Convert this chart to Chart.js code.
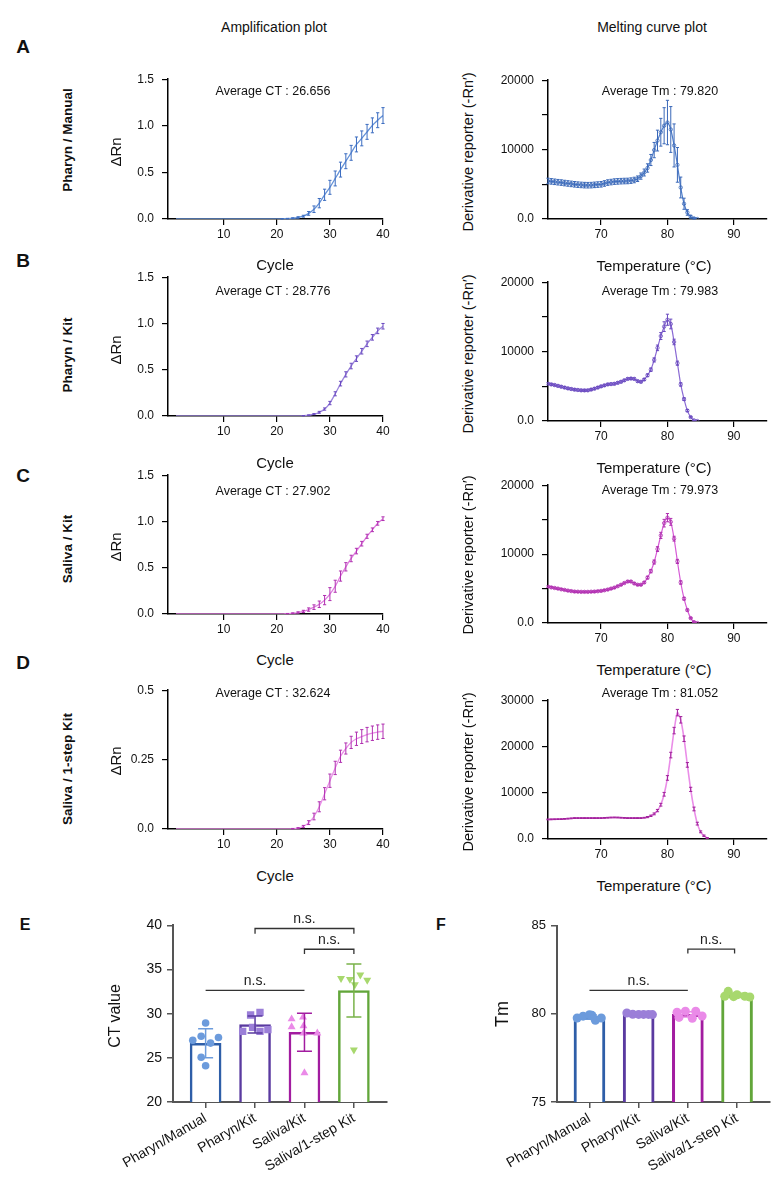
<!DOCTYPE html>
<html>
<head>
<meta charset="utf-8">
<title>qPCR amplification and melting curves</title>
<style>
	html, body {
		margin: 0;
		padding: 0;
		background: #fff;
	}
	#page {
		position: relative;
		width: 782px;
		height: 1177px;
		overflow: hidden;
		font-family: "Liberation Sans", Arial, Helvetica, sans-serif;
		color: #111;
	}
	.txt {
		position: absolute;
		white-space: nowrap;
		line-height: 1;
		transform: translate(-50%, -50%);
	}
	canvas { position: absolute; }
</style>
</head>
<body>
<div id="page"></div>

<script src="https://cdn.jsdelivr.net/npm/chart.js@4.4.0/dist/chart.umd.min.js"></script>
<script>
// ---- amplification data (cycles 1..40) ----
const cycles = [1,2,3,4,5,6,7,8,9,10,11,12,13,14,15,16,17,18,19,20,21,22,23,24,25,26,27,28,29,30,31,32,33,34,35,36,37,38,39,40];
const ampA = [0,0,0,0,0,0,0,0,0,0, 0,0,0,0,0,0,0,0,0,0, 0.002,0.004,0.008,0.016,0.03,0.06,0.105,0.17,0.26,0.34, 0.435,0.53,0.62,0.71,0.80,0.865,0.935,1.005,1.06,1.11];
const ampAsd = [0,0,0,0,0,0,0,0,0,0, 0,0,0,0,0,0,0,0,0,0, 0.002,0.003,0.005,0.008,0.01,0.02,0.035,0.05,0.06,0.075, 0.08,0.08,0.08,0.08,0.08,0.08,0.08,0.08,0.08,0.085];
const ampB = [0,0,0,0,0,0,0,0,0,0, 0,0,0,0,0,0,0,0,0,0, 0,0,0,0,0.003,0.008,0.02,0.04,0.075,0.14, 0.24,0.35,0.45,0.54,0.62,0.70,0.78,0.85,0.92,0.97];
const ampBsd = [0,0,0,0,0,0,0,0,0,0, 0,0,0,0,0,0,0,0,0,0, 0,0,0,0,0.002,0.004,0.006,0.01,0.012,0.018, 0.022,0.025,0.028,0.03,0.03,0.03,0.03,0.03,0.03,0.03];
const ampC = [0,0,0,0,0,0,0,0,0,0, 0,0,0,0,0,0,0,0,0,0, 0,0.004,0.008,0.016,0.028,0.048,0.074,0.105,0.15,0.215, 0.30,0.41,0.51,0.60,0.68,0.76,0.84,0.91,0.98,1.03];
const ampCsd = [0,0,0,0,0,0,0,0,0,0, 0,0,0,0,0,0,0,0,0,0, 0,0.002,0.004,0.008,0.012,0.018,0.025,0.035,0.05,0.07, 0.065,0.055,0.045,0.035,0.03,0.025,0.022,0.02,0.02,0.02];
const ampD = [0,0,0,0,0,0,0,0,0,0, 0,0,0,0,0,0,0,0,0,0, 0,0,0.001,0.003,0.009,0.023,0.045,0.08,0.127,0.174, 0.22,0.262,0.29,0.312,0.325,0.333,0.34,0.345,0.349,0.352];
const ampDsd = [0,0,0,0,0,0,0,0,0,0, 0,0,0,0,0,0,0,0,0,0, 0,0,0.001,0.002,0.004,0.007,0.012,0.018,0.022,0.024, 0.024,0.022,0.02,0.022,0.024,0.025,0.026,0.026,0.026,0.026];

// ---- melting data (62..86 °C, 0.5 step) ----
const temps = [62,62.5,63,63.5,64,64.5,65,65.5,66,66.5,67,67.5,68,68.5,69,69.5,70,70.5,71,71.5,72,72.5,73,73.5,74,74.5,75,75.5,76,76.5,77,77.5,78,78.5,79,79.5,80,80.5,81,81.5,82,82.5,83,83.5,84,84.5,85,85.5,86];
const meltA = [5480,5420,5360,5300,5250,5180,5120,5060,5000,4950, 4910,4880,4870,4880,4920,4960,5000,5120,5250,5320, 5390,5420,5450,5470,5480,5530,5620,5800,6180,6700, 7350,8500,9930,11300,12500,13440,13900,12900,10600,7800, 4540,2200,940,330,90,0,null,null,null];
const meltAsd = [400,400,400,400,400,400,400,400,400,400, 400,400,400,400,400,400,400,400,400,400, 400,400,400,400,400,400,400,400,450,500, 600,800,1100,1500,2000,2600,3200,3300,3100,2500, 1500,800,400,200,100,0,0,0,0];
const meltB = [5360,5270,5180,5060,4940,4820,4700,4610,4520,4470, 4420,4410,4420,4530,4660,4820,4990,5130,5270,5320, 5360,5500,5650,5860,6070,6120,6070,5740,5650,5980, 6590,7390,8800,10540,12240,13600,14590,13980,11390,8330, 5270,3150,1500,560,90,0,null,null,null];
const meltBsd = [150,150,150,150,150,150,150,150,150,150, 150,150,150,150,150,150,150,150,150,150, 150,150,150,150,150,150,150,150,150,150, 200,250,300,400,500,700,800,700,400,300, 250,200,150,100,50,0,0,0,0];
const meltC = [5270,5170,5080,4990,4890,4800,4700,4630,4560,4540, 4520,4520,4520,4540,4560,4610,4660,4750,4850,4990, 5130,5340,5550,5800,6020,6020,5740,5550,5550,5880, 6590,7530,8850,10730,12710,14490,15290,14680,12240,8940, 5880,3530,1880,710,140,0,null,null,null];
const meltCsd = [120,120,120,120,120,120,120,120,120,120, 120,120,120,120,120,120,120,120,120,120, 120,120,120,120,120,120,120,120,120,120, 200,250,300,350,450,550,600,500,350,300, 250,200,150,100,50,0,0,0,0];
const meltD = [4230,4250,4270,4290,4300,4350,4400,4460,4520,4520, 4520,4520,4520,4520,4520,4520,4520,4560,4600,4640, 4660,4640,4600,4560,4520,4520,4520,4520,4520,4600, 4730,5010,5430,6140,7410,9670,13200,18140,23430,27310, 25760,21670,16020,10730,6490,3320,1550,710,210];
const meltDsd = [80,80,80,80,80,80,80,80,80,80, 80,80,80,80,80,80,80,80,80,80, 80,80,80,80,80,80,80,80,80,80, 120,150,200,250,300,400,500,600,700,700, 700,600,500,450,400,300,200,150,100];

// ---- summary data ----
const groups = ['Pharyn/Manual', 'Pharyn/Kit', 'Saliva/Kit', 'Saliva/1-step Kit'];
const rowNames = ['Pharyn / Manual', 'Pharyn / Kit', 'Saliva / Kit', 'Saliva / 1-step Kit'];
const ctMean = [26.656, 28.776, 27.902, 32.624];
const ctSD = [1.65, 0.95, 2.15, 3.0];
const ctPoints = [
	[28.95, 27.0, 27.45, 26.67, 27.3, 25.06, 24.1],
	[30.15, 29.85, 28.0, 28.45, 28.2, 28.0],
	[29.4, 29.6, 28.5, 28.6, 27.8, 27.8, 23.3],
	[34.0, 33.9, 34.4, 33.8, 33.3, 25.9]
];
const ctJitter = [
	[0, -0.26, -0.09, 0.1, 0.26, -0.09, 0],
	[0.1, -0.09, -0.25, -0.05, 0.26, 0.1],
	[-0.26, -0.03, -0.26, -0.02, 0.26, -0.02, 0],
	[-0.26, -0.08, 0.13, 0.27, 0.02, 0]
];
const tmMean = [79.820, 79.983, 79.973, 81.052];
const tmSD = [0.12, 0.04, 0.15, 0.12];
const tmPoints = [
	[79.77, 79.87, 79.95, 79.64, 79.77, 79.92],
	[80.05, 79.98, 79.97, 79.97, 79.97, 79.96],
	[80.1, 80.15, 80.15, 79.8, 79.75, 79.88],
	[81.28, 81.09, 81.0, 80.96, 81.0, 80.98]
];
const tmJitter = [
	[-0.25, -0.13, 0, 0.12, 0.24, 0.05],
	[-0.24, -0.12, 0, 0.1, 0.2, 0.28],
	[-0.22, -0.05, 0.16, -0.18, 0.09, 0.29],
	[-0.18, 0, 0.16, 0.26, -0.25, -0.07]
];
const ctBrackets = [
	{from: 1, to: 3, level: 39.65, drop: 0.6},
	{from: 2, to: 3, level: 37.3, drop: 0.55},
	{from: 0, to: 2, level: 32.65, drop: 0}
];
const tmBrackets = [
	{from: 0, to: 2, level: 81.33, drop: 0},
	{from: 2, to: 2.95, level: 83.68, drop: 0.25}
];

// ---- styling ----
const ampStyle = [
	{line: '#6592d8', bar: '#3b6cc0'},
	{line: '#9c86dc', bar: '#6a4ac0'},
	{line: '#e07ce0', bar: '#b030b0'},
	{line: '#ea8ee8', bar: '#b030b0'}
];
const meltStyle = [
	{line: '#4f7ecb', bar: '#3a68b8', radius: 1.7},
	{line: '#8a6ad4', bar: '#6b4bc0', radius: 1.7},
	{line: '#d65ad6', bar: '#b030b0', radius: 1.7},
	{line: '#ea8ee8', bar: '#a0209a', radius: 0}
];
const barEdge = ['#2e5ea8', '#5a3aa0', '#a21ca0', '#62a63a'];
const dotColor = ['#6c9bdc', '#9b7fd8', '#ea8ae8', '#a8d86e'];
const ctErrColor = ['#6c9bdc', '#5a3aa0', '#a21ca0', '#7ab34a'];
const ctDots = [
	{pointStyle: 'circle', radius: 3.8, rotation: 0},
	{pointStyle: 'rect', radius: 5.2, rotation: 0},
	{pointStyle: 'triangle', radius: 4.6, rotation: 0},
	{pointStyle: 'triangle', radius: 4.6, rotation: 180}
];
const tmDots = [
	{pointStyle: 'circle', radius: 4.5, rotation: 0},
	{pointStyle: 'circle', radius: 4.5, rotation: 0},
	{pointStyle: 'circle', radius: 4.5, rotation: 0},
	{pointStyle: 'circle', radius: 4.5, rotation: 0}
];

const ampBox = [[168,76,383,219],[168,274,383,416],[168,472,383,614],[168,687,383,829]];
const meltBox = [[548,77,767,219],[548,279,767,421],[548,482,767,623],[548,697,767,839]];

Chart.defaults.font.family = '"Liberation Sans", Arial, Helvetica, sans-serif';
Chart.defaults.font.size = 12;
Chart.defaults.color = '#111';

const page = document.getElementById('page');

function text(str, x, y, size, extra) {
	const d = document.createElement('div');
	d.className = 'txt';
	d.textContent = str;
	d.style.left = x + 'px';
	d.style.top = y + 'px';
	d.style.fontSize = size + 'px';
	if (extra) Object.assign(d.style, extra);
	page.appendChild(d);
	return d;
}
function vtext(str, x, y, size, extra) {
	return text(str, x, y, size, Object.assign({transform: 'translate(-50%,-50%) rotate(-90deg)'}, extra || {}));
}

function makeCanvas(box, pad) {
	const c = document.createElement('canvas');
	const w = box[2] - box[0] + pad[3] + pad[1];
	const h = box[3] - box[1] + pad[0] + pad[2];
	c.width = w; c.height = h;
	c.style.left = (box[0] - pad[3]) + 'px';
	c.style.top = (box[1] - pad[0]) + 'px';
	c.style.width = w + 'px';
	c.style.height = h + 'px';
	page.appendChild(c);
	return c;
}

// error bars for any dataset carrying means/errors
const errorBars = {
	id: 'errorBars',
	afterDatasetsDraw(chart) {
		const ctx = chart.ctx, ys = chart.scales.y;
		chart.data.datasets.forEach((ds, i) => {
			if (!ds.errors) return;
			const meta = chart.getDatasetMeta(i);
			ctx.save();
			ctx.lineWidth = ds.errorWidth || 1;
			meta.data.forEach((el, j) => {
				const m = ds.means[j], e = ds.errors[j];
				if (m == null || !e) return;
				const x = el.x, c = ds.cap;
				const t = ys.getPixelForValue(m + e), b = ys.getPixelForValue(m - e);
				ctx.strokeStyle = Array.isArray(ds.errorColor) ? ds.errorColor[j] : ds.errorColor;
				ctx.beginPath();
				ctx.moveTo(x, t); ctx.lineTo(x, b);
				ctx.moveTo(x - c, t); ctx.lineTo(x + c, t);
				ctx.moveTo(x - c, b); ctx.lineTo(x + c, b);
				ctx.stroke();
			});
			ctx.restore();
		});
	}
};

function sigPlugin(items, font) {
	return {
		id: 'sig',
		afterDraw(chart) {
			const {ctx, scales: {x, y}} = chart;
			ctx.save();
			ctx.strokeStyle = '#333';
			ctx.lineWidth = 1.3;
			ctx.fillStyle = '#222';
			ctx.font = font;
			ctx.textAlign = 'center';
			ctx.textBaseline = 'bottom';
			items.forEach(s => {
				const x0 = x.getPixelForValue(s.from), x1 = x.getPixelForValue(s.to);
				const yy = y.getPixelForValue(s.level), yd = y.getPixelForValue(s.level - s.drop);
				ctx.beginPath();
				ctx.moveTo(x0, yd); ctx.lineTo(x0, yy); ctx.lineTo(x1, yy); ctx.lineTo(x1, yd);
				ctx.stroke();
				ctx.fillText('n.s.', (x0 + x1) / 2, yy - 2);
			});
			ctx.restore();
		}
	};
}

function curveChart(box, xs, ys, sd, st, ax) {
	const pad = [12, 22, 28, 62];
	const cv = makeCanvas(box, pad);
	return new Chart(cv, {
		type: 'line',
		data: {
			datasets: [{
				data: xs.map((x, i) => ({x: x, y: ys[i]})),
				means: ys, errors: sd, errorColor: st.bar, cap: 1.6, errorWidth: 1,
				borderColor: st.line,
				borderWidth: st.width || 1.3,
				pointRadius: st.radius || 0,
				pointBorderColor: st.bar,
				pointBackgroundColor: 'rgba(255,255,255,0)',
				pointBorderWidth: 0.8,
				tension: 0.25,
				spanGaps: false
			}]
		},
		options: {
			responsive: false,
			animation: false,
			events: [],
			layout: {padding: {top: pad[0], right: pad[1], bottom: 0, left: 0}},
			plugins: {legend: {display: false}, tooltip: {enabled: false}},
			scales: {
				x: {
					type: 'linear', min: ax.xmin, max: ax.xmax,
					afterBuildTicks: s => { s.ticks = ax.xticks.map(v => ({value: v})); },
					afterFit: s => { s.height = pad[2]; },
					ticks: {padding: 2, autoSkip: false, maxRotation: 0, color: '#111', font: {size: 12}},
					grid: {drawOnChartArea: false, tickLength: 6, color: '#000', lineWidth: 1.2},
					border: {color: '#000', width: 1.5}
				},
				y: {
					type: 'linear', min: 0, max: ax.ymax,
					afterBuildTicks: s => { s.ticks = ax.yticks.map(v => ({value: v})); },
					afterFit: s => { s.width = pad[3]; },
					ticks: {padding: 8, color: '#111', font: {size: 12}, callback: ax.ylabel},
					grid: {drawOnChartArea: false, tickLength: 6, color: '#000', lineWidth: 1.2},
					border: {color: '#000', width: 1.5}
				}
			}
		},
		plugins: [errorBars]
	});
}

function summaryChart(box, means, sd, points, jitter, ymin, ymax, brackets, opt) {
	const pad = [12, 20, 75, 80];
	const cv = makeCanvas(box, pad);
	const datasets = [{
		type: 'bar',
		order: 3,
		data: means.map((v, i) => ({x: i, y: v})),
		backgroundColor: '#fff',
		borderColor: barEdge,
		borderWidth: opt.edge,
		borderSkipped: 'start',
		barThickness: 31
	}];
	points.forEach((pts, g) => {
		datasets.push({
			type: 'scatter',
			order: 2,
			data: pts.map((v, k) => ({x: g + jitter[g][k], y: v})),
			pointStyle: opt.dots[g].pointStyle,
			pointRadius: opt.dots[g].radius,
			rotation: opt.dots[g].rotation,
			pointBackgroundColor: dotColor[g],
			pointBorderColor: dotColor[g],
			pointBorderWidth: 0
		});
	});
	// error bars on top, drawn from the group means
	datasets.push({
		type: 'scatter',
		order: opt.errOrder,
		data: means.map((v, i) => ({x: i, y: v})),
		pointRadius: 0,
		means: means, errors: sd, errorColor: opt.errColor, cap: 7.5, errorWidth: 1.5
	});
	return new Chart(cv, {
		type: 'bar',
		data: {datasets: datasets},
		options: {
			responsive: false,
			animation: false,
			events: [],
			layout: {padding: {top: pad[0], right: pad[1], bottom: 0, left: 0}},
			plugins: {legend: {display: false}, tooltip: {enabled: false}},
			scales: {
				x: {
					type: 'linear', min: -0.66, max: 3.67, offset: false,
					afterBuildTicks: s => { s.ticks = [0, 1, 2, 3].map(v => ({value: v})); },
					afterFit: s => { s.height = pad[2]; },
					ticks: {callback: v => groups[v], minRotation: 30, maxRotation: 30, autoSkip: false, padding: 2, color: '#111', font: {size: 14}},
					grid: {drawOnChartArea: false, offset: false, tickLength: 6, color: '#555', lineWidth: 1.5},
					border: {color: '#555', width: 2}
				},
				y: {
					type: 'linear', min: ymin, max: ymax,
					afterBuildTicks: s => { s.ticks = opt.yticks.map(v => ({value: v})); },
					afterFit: s => { s.width = pad[3]; },
					ticks: {padding: 5, color: '#111', font: {size: opt.tickSize}},
					grid: {drawOnChartArea: false, tickLength: 6, color: '#555', lineWidth: 1.5},
					border: {color: '#555', width: 2}
				}
			}
		},
		plugins: [errorBars, sigPlugin(brackets, '14px "Liberation Sans", Arial, sans-serif')]
	});
}

// ---- axis label formats ----
const ampLabel = v => (v === 0 ? '0.0' : v.toFixed(1));
const ampLabelD = v => (v === 0 ? '0.0' : String(v));
const meltLabel = v => (v === 0 ? '0.0' : (v % 10000 === 0 ? String(v) : ''));

const ampSeries = [[ampA, ampAsd], [ampB, ampBsd], [ampC, ampCsd], [ampD, ampDsd]];
const meltSeries = [[meltA, meltAsd], [meltB, meltBsd], [meltC, meltCsd], [meltD, meltDsd]];

for (let r = 0; r < 4; r++) {
	const lastRow = r === 3;
	curveChart(ampBox[r], cycles, ampSeries[r][0], ampSeries[r][1], ampStyle[r], {
		xmin: -0.5, xmax: 40, xticks: [10, 20, 30, 40],
		ymax: lastRow ? 0.5 : 1.5,
		yticks: lastRow ? [0, 0.25, 0.5] : [0, 0.5, 1, 1.5],
		ylabel: lastRow ? ampLabelD : ampLabel
	});
	curveChart(meltBox[r], temps, meltSeries[r][0], meltSeries[r][1], Object.assign({width: lastRow ? 1.6 : 1.2}, meltStyle[r]), {
		xmin: 62, xmax: 95, xticks: [70, 80, 90],
		ymax: lastRow ? 30000 : 20000,
		yticks: lastRow ? [0, 10000, 20000, 30000] : [0, 5000, 10000, 15000, 20000],
		ylabel: meltLabel
	});
}

summaryChart([173, 924, 387, 1102], ctMean, ctSD, ctPoints, ctJitter, 20, 40, ctBrackets,
	{edge: 2.5, errColor: ctErrColor, errOrder: 1, dots: ctDots, yticks: [20, 25, 30, 35, 40], tickSize: 14});
summaryChart([557, 925, 770, 1102], tmMean, tmSD, tmPoints, tmJitter, 75, 85, tmBrackets,
	{edge: 3, errColor: dotColor, errOrder: 2.5, dots: tmDots, yticks: [75, 80, 85], tickSize: 13});

// ---- page text ----
text('Amplification plot', 274, 27, 14);
text('Melting curve plot', 652, 27, 14);

const letterY = [46, 260, 475, 662];
['A', 'B', 'C', 'D'].forEach((l, i) => text(l, 23, letterY[i], 19, {fontWeight: 'bold'}));
text('E', 25, 925, 16, {fontWeight: 'bold'});
text('F', 441, 925, 16, {fontWeight: 'bold'});

const rowY = [140, 355, 549, 769];
const dRnY = [152, 350, 547, 761];
const derivY = [152, 354, 555, 772];
const cycleY = [264, 462, 659, 875];
const tempY = [265, 467, 669, 885];
const ctTextY = [91, 291, 491, 693];
const tmTextY = [91, 291, 490, 693];
for (let r = 0; r < 4; r++) {
	vtext(rowNames[r], 68, rowY[r], 13.5, {fontWeight: 'bold'});
	vtext('\u0394Rn', 115, dRnY[r], 15);
	vtext('Derivative reporter (-Rn\u2032)', 468, derivY[r], 14.5);
	text('Cycle', 275, cycleY[r], 15);
	text('Temperature (\u00B0C)', 654, tempY[r], 15);
	text('Average CT : ' + ctMean[r].toFixed(3), 273, ctTextY[r], 12.5);
	text('Average Tm : ' + tmMean[r].toFixed(3), 660, tmTextY[r], 12.5);
}
vtext('CT value', 115, 1016, 16);
vtext('Tm', 502, 1014, 18);
</script>
</body>
</html>
